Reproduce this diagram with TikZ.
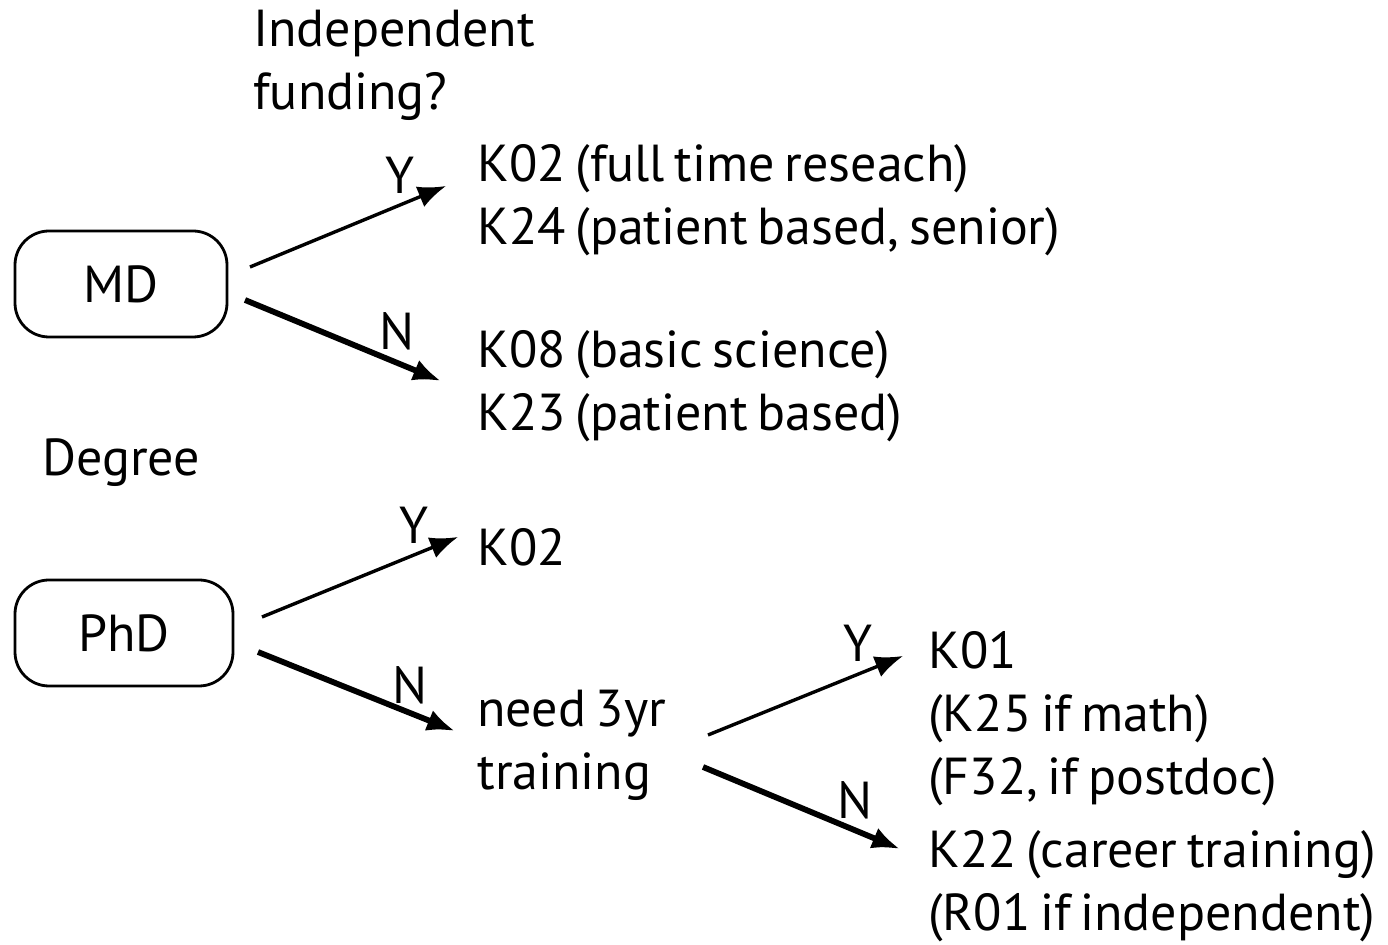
\documentclass[tikz,border=0pt]{standalone}
\usepackage{fontspec}
\setmainfont{PT Sans}[WordSpace=0.7]
\usetikzlibrary{arrows.meta}
\begin{document}
\begin{tikzpicture}[x=0.5pt,y=-0.5pt,
  txt/.style={font=\fontsize{26}{31.5}\selectfont, inner sep=0pt, align=left, anchor=west},
  degbox/.style={draw, line width=1.4pt, rounded corners=17pt, minimum width=106pt, minimum height=53pt, inner sep=0pt, font=\fontsize{26}{32.5}\selectfont},
  yarrow/.style={line width=1.7pt, -{Latex[length=14pt,width=11pt]}},
  narrow/.style={line width=2.9pt, -{Latex[length=14pt,width=11pt]}},
  lbl/.style={font=\fontsize{26}{32.5}\selectfont, inner sep=0pt}]
\useasboundingbox (0,0) rectangle (1388,945);
\node[txt] (q) at (253,65) {Independent\\funding?};
\node[degbox] (md) at (121,284) {MD};
\node[degbox, minimum width=109pt] (phd) at (124,633) {PhD};
\node[txt] (deg) at (42,463) {Degree};
\node[txt] (mdy) at (477,200) {K02 (full time reseach)\\K24 (patient based, senior)};
\node[txt] (mdn) at (477,386) {K08 (basic science)\\K23 (patient based)};
\node[txt] (phy) at (477,547) {K02};
\node[txt] (phn) at (477,745) {need 3yr\\training};
\node[txt] (k01) at (928,719) {K01\\(K25 if math)\\(F32, if postdoc)};
\node[txt] (k22) at (928,886) {K22 (career training)\\(R01 if independent)};
\coordinate (a1) at (250,267); \coordinate (a1e) at (446,186);
\coordinate (b1) at (245,300); \coordinate (b1e) at (441,381);
\coordinate (a2) at (262,617); \coordinate (a2e) at (458,537);
\coordinate (b2) at (258,652); \coordinate (b2e) at (455,731);
\coordinate (a3) at (708,735); \coordinate (a3e) at (903,656);
\coordinate (b3) at (703,767); \coordinate (b3e) at (900,849);
\draw[yarrow] (a1) -- (a1e);
\draw[narrow] (b1) -- (b1e);
\draw[yarrow] (a2) -- (a2e);
\draw[narrow] (b2) -- (b2e);
\draw[yarrow] (a3) -- (a3e);
\draw[narrow] (b3) -- (b3e);
\node[lbl] (y1) at (400,175) {Y};
\node[lbl] (n1) at (397,331) {N};
\node[lbl] (y2) at (414,525) {Y};
\node[lbl] (n2) at (410,685) {N};
\node[lbl] (y3) at (858,643) {Y};
\node[lbl] (n3) at (855,800) {N};
\end{tikzpicture}
\end{document}
